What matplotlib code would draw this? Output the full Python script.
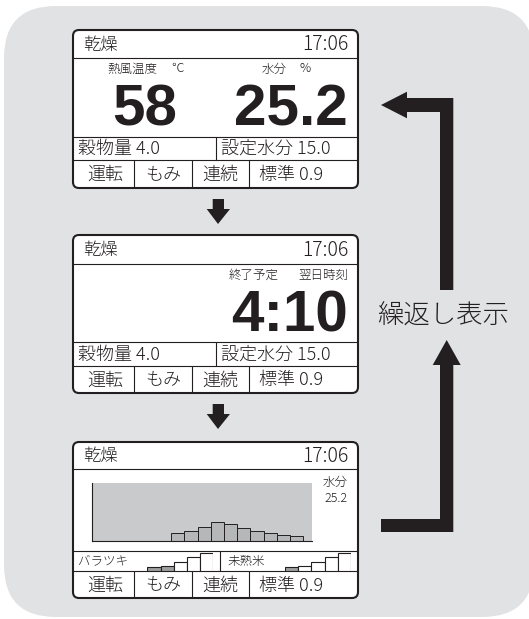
import matplotlib
matplotlib.use("Agg")
import matplotlib.pyplot as plt
from matplotlib.patches import FancyBboxPatch, Polygon

plt.rcParams['font.family'] = ['Noto Sans CJK JP', 'DejaVu Sans']
plt.rcParams['font.weight'] = 'light'

# ---- data ----
mode_label = "乾燥"
clock = "17:06"
hot_air_label = "熱風温度"
hot_air_unit = "℃"
hot_air_temp = "58"
moisture_label = "水分"
moisture_unit = "%"
moisture_value = "25.2"
finish_label = "終了予定"
nextday_label = "翌日時刻"
finish_time = "4:10"
grain_amount = "穀物量 4.0"
target_moisture = "設定水分 15.0"
bottom_labels = ["運転", "もみ", "連続"]
bottom_last = "標準 0.9"
repeat_label = "繰返し表示"

hist_bins = [6, 7, 8, 9, 10, 11, 12, 13, 14, 15]
hist_vals = [1.6, 2.1, 3.0, 4.0, 3.5, 2.6, 2.1, 1.7, 1.3, 1.0]
spread_label = "バラツキ"
spread_levels = [0.18, 0.27, 0.47, 0.68, 0.92]
spread_filled = [True, True, False, False, False]
immature_label = "未熟米"
immature_levels = [0.18, 0.27, 0.47, 0.68, 0.92]
immature_filled = [True, False, False, False, False]

# ---- figure ----
W, H = 529, 619
fig = plt.figure(figsize=(W / 100, H / 100), dpi=100)
ax = fig.add_axes([0, 0, 1, 1])
ax.set_xlim(0, W)
ax.set_ylim(H, 0)
ax.axis('off')

BG = '#e1e2e4'
DARK = '#231f20'
fig.patch.set_facecolor('white')

ax.add_patch(FancyBboxPatch((4, 6), 530, 611, boxstyle="round,pad=0,rounding_size=52",
                            fc=BG, ec='none'))


def hline(y, x0, x1, lw=0.8):
    ax.plot([x0, x1], [y, y], color=DARK, lw=lw, solid_capstyle='butt')


def vline(x, y0, y1, lw=0.8):
    ax.plot([x, x], [y0, y1], color=DARK, lw=lw, solid_capstyle='butt')


def txt(x, y, s, size, ha='left', va='center', **kw):
    ax.text(x, y, s, fontsize=size, ha=ha, va=va, color=DARK, zorder=5, **kw)


X0, X1 = 73, 358
ROW = 13


def panel(top, header, row1, row2, bottom):
    ax.add_patch(FancyBboxPatch((X0, top), X1 - X0, bottom - top,
                                boxstyle="round,pad=0,rounding_size=6",
                                fc='white', ec=DARK, lw=1.5, zorder=2))
    hline(header, X0, X1)
    hline(row1, X0, X1)
    hline(row2, X0, X1)
    ty = (top + header) / 2 + 1
    txt(83, ty, mode_label, 12.5)
    txt(348, ty, clock, 14, ha='right')
    yb = (row2 + bottom) / 2 + 1
    for x in (134, 192, 249):
        vline(x, row2, bottom)
    for lab, cx in zip(bottom_labels, (105, 163, 220)):
        txt(cx, yb, lab, ROW, ha='center')
    txt(259, yb, bottom_last, ROW)


BIG = dict(fontweight='bold', family='Liberation Sans', va='baseline')

# panel 1
panel(30, 58, 137, 160, 188)
vline(216, 137, 160)
txt(78, 149, grain_amount, ROW)
txt(221, 149, target_moisture, ROW)
txt(107, 69, hot_air_label, 9)
txt(171, 69, hot_air_unit, 9)
txt(262, 69, moisture_label, 9)
txt(300, 69, moisture_unit, 9)
txt(145, 125, hot_air_temp, 42, ha='center', **BIG)
txt(348, 125, moisture_value, 42, ha='right', **BIG)

# panel 2
panel(235, 264, 342, 366, 393)
vline(216, 342, 366)
txt(78, 355, grain_amount, ROW)
txt(221, 355, target_moisture, ROW)
txt(229, 275, finish_label, 9)
txt(348, 275, nextday_label, 9, ha='right')
txt(348, 332, finish_time, 42, ha='right', **BIG)

# panel 3
panel(442, 469, 551, 571, 598)
vline(220, 551, 571)
txt(348, 482, moisture_label, 9, ha='right')
txt(348, 498, moisture_value, 9, ha='right')
txt(78, 561, spread_label, 9)
txt(227, 561, immature_label, 9)


def px_axes(x0, y0, x1, y1):
    return fig.add_axes([x0 / W, 1 - y1 / H, (x1 - x0) / W, (y1 - y0) / H])


hax = px_axes(92, 483, 312, 541)
hax.set_facecolor('#c9cacc')
hax.bar(hist_bins, hist_vals, width=1, align='edge', color='#b6b7b9', edgecolor=DARK, lw=0.7)
hax.set_xlim(0, 16.67)
hax.set_ylim(0, 12)
hax.set_xticks([])
hax.set_yticks([])
for s in ('top', 'right'):
    hax.spines[s].set_visible(False)
for s in ('left', 'bottom'):
    hax.spines[s].set_color(DARK)
    hax.spines[s].set_linewidth(0.8)


def stairs(x0, levels, filled):
    sax = px_axes(x0, 551, x0 + 66, 571)
    sax.patch.set_alpha(0)
    cols = ['#9d9ea0' if f else 'white' for f in filled]
    sax.bar(range(len(levels)), levels, width=1, align='edge', color=cols, edgecolor=DARK, lw=0.8)
    sax.set_xlim(0, len(levels))
    sax.set_ylim(0, 1)
    sax.axis('off')


stairs(147.3, spread_levels, spread_filled)
stairs(285, immature_levels, immature_filled)

# down arrows
for dy in (0, 205):
    ax.add_patch(Polygon([(212.7, 199 + dy), (224, 199 + dy), (224, 209 + dy), (230, 209 + dy),
                          (218, 224 + dy), (206.7, 209 + dy), (212.7, 209 + dy)],
                         closed=True, fc=DARK, ec='none'))

# loop arrows
ax.add_patch(Polygon([(381, 105), (407, 91.7), (407, 98), (453.3, 98), (453.3, 290),
                      (440, 290), (440, 112), (407, 112), (407, 118.3)],
                     closed=True, fc=DARK, ec='none'))
ax.add_patch(Polygon([(446.7, 340), (460.7, 365), (453.3, 365), (453.3, 532), (381, 532),
                      (381, 519), (440, 519), (440, 365), (432.7, 365)],
                     closed=True, fc=DARK, ec='none'))
txt(443, 316, repeat_label, 19, ha='center')

fig.savefig("out.png", dpi=100, facecolor='white')
